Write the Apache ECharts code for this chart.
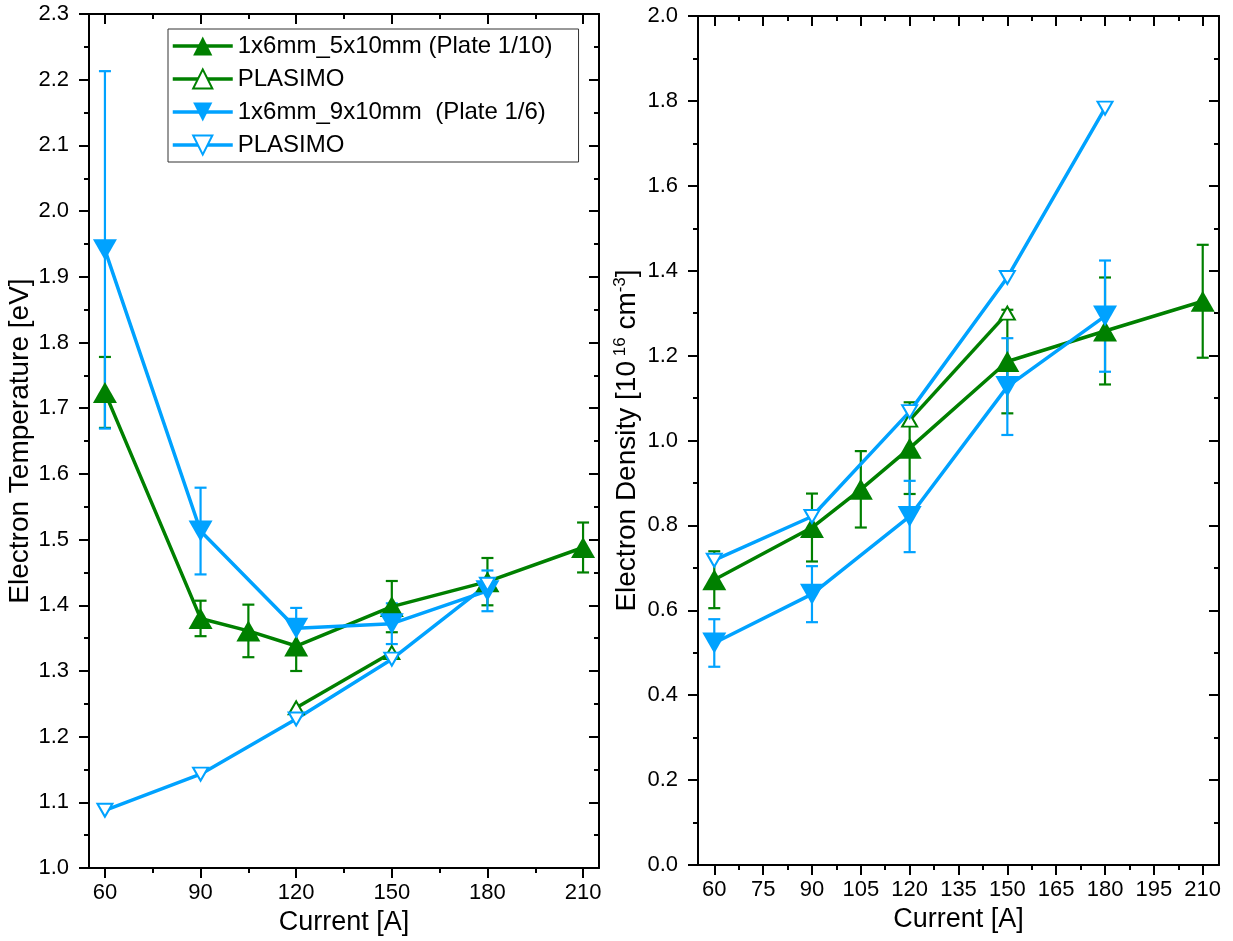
<!DOCTYPE html>
<html>
<head>
<meta charset="utf-8">
<script src="https://cdn.jsdelivr.net/npm/echarts@6/dist/echarts.min.js"></script>
<style>
  html, body { margin: 0; padding: 0; background: #fff; }
  #chart { width: 1233px; height: 941px; }
</style>
</head>
<body>
<div id="chart"></div>
<script>
// ---------- data ----------
const legendNames = ['1x6mm_5x10mm (Plate 1/10)', 'PLASIMO', '1x6mm_9x10mm  (Plate 1/6)', 'PLASIMO '];

// Left panel: Electron Temperature [eV]
const currentPlate10 = [60, 90, 105, 120, 150, 180, 210];
const tempPlate10 = [1.724, 1.380, 1.361, 1.338, 1.398, 1.436, 1.488];
const tempPlate10Err = [0.054, 0.027, 0.040, 0.038, 0.039, 0.036, 0.038];
const currentPlate10Sim = [120, 150];
const tempPlate10Sim = [1.244, 1.328];
const currentPlate6 = [60, 90, 120, 150, 180];
const tempPlate6 = [1.941, 1.513, 1.365, 1.372, 1.422];
const tempPlate6Err = [0.272, 0.066, 0.031, 0.031, 0.031];
const currentPlate6Sim = [60, 90, 120, 150, 180];
const tempPlate6Sim = [1.088, 1.143, 1.227, 1.318, 1.432];

// Right panel: Electron Density [10^16 cm^-3]
const densPlate10 = [0.672, 0.795, 0.885, 0.982, 1.186, 1.258, 1.328];
const densPlate10Err = [0.067, 0.080, 0.090, 0.108, 0.122, 0.126, 0.133];
const densPlate10Sim = [1.048, 1.300];
const densPlate6 = [0.523, 0.638, 0.821, 1.127, 1.293];
const densPlate6Err = [0.056, 0.066, 0.084, 0.114, 0.131];
const densPlate6Sim = [0.718, 0.821, 1.068, 1.384, 1.783];

// ticks
const leftXLabels = [60, 90, 120, 150, 180, 210];
const leftXMinor = [75, 105, 135, 165, 195];
const rightXLabels = [60, 75, 90, 105, 120, 135, 150, 165, 180, 195, 210];
const rightXMinor = [67.5, 82.5, 97.5, 112.5, 127.5, 142.5, 157.5, 172.5, 187.5, 202.5];

// ---------- styling ----------
const GREEN = '#008000';
const BLUE = '#00a2ff';
const FONT = 'Liberation Sans, Arial, sans-serif';
const AX = { color: '#000', width: 2 };

function pairs(xs, ys) { return xs.map((x, i) => [x, ys[i]]); }

function xAxesFor(gridIndex, majors, minors, withName) {
  const base = { type: 'value', gridIndex, min: 55, max: 215, splitLine: { show: false } };
  return [
    Object.assign({}, base, {
      position: 'bottom',
      axisLine: { show: true, onZero: false, lineStyle: AX },
      axisTick: { show: true, customValues: majors, length: 10, lineStyle: AX },
      axisLabel: { show: true, customValues: majors, fontSize: 22, fontFamily: FONT, color: '#000', margin: 14 },
      name: withName ? 'Current [A]' : '',
      nameLocation: 'middle', nameGap: 33,
      nameTextStyle: { fontSize: 27, fontFamily: FONT, color: '#000' }
    }),
    Object.assign({}, base, {
      position: 'bottom',
      axisLine: { show: false, onZero: false },
      axisTick: { show: true, customValues: minors, length: 5, lineStyle: AX },
      axisLabel: { show: false }
    }),
    Object.assign({}, base, {
      position: 'top',
      axisLine: { show: true, onZero: false, lineStyle: AX },
      axisTick: { show: true, inside: true, customValues: majors, length: 10, lineStyle: AX },
      axisLabel: { show: false }
    }),
    Object.assign({}, base, {
      position: 'top',
      axisLine: { show: false, onZero: false },
      axisTick: { show: true, inside: true, customValues: minors, length: 5, lineStyle: AX },
      axisLabel: { show: false }
    })
  ];
}

function yAxesFor(gridIndex, min, max, interval, name, nameStyle) {
  const base = { type: 'value', gridIndex, min, max, interval, splitLine: { show: false } };
  return [
    Object.assign({}, base, {
      position: 'left',
      axisLine: { show: true, onZero: false, lineStyle: AX },
      axisTick: { show: true, length: 10, lineStyle: AX },
      minorTick: { show: true, splitNumber: 2, length: 5, lineStyle: AX },
      axisLabel: { fontSize: 22, fontFamily: FONT, color: '#000', margin: 20,
                   formatter: v => v.toFixed(1) },
      name, nameLocation: 'middle', nameGap: 51,
      nameTextStyle: nameStyle
    }),
    Object.assign({}, base, {
      position: 'right',
      axisLine: { show: true, onZero: false, lineStyle: AX },
      axisTick: { show: true, inside: true, length: 10, lineStyle: AX },
      minorTick: { show: true, splitNumber: 2, length: 5, lineStyle: AX },
      axisLabel: { show: false }
    })
  ];
}

function lineSeries(name, data, color, filled, down, xi, yi) {
  return {
    type: 'line', name, xAxisIndex: xi, yAxisIndex: yi, data,
    symbol: 'triangle', symbolRotate: down ? 180 : 0,
    symbolSize: filled ? [24, 21] : [15, 13],
    lineStyle: { color, width: 3.5 },
    itemStyle: filled ? { color, borderWidth: 0 } : { color: '#fff', borderColor: color, borderWidth: 2 },
    emphasis: { disabled: true },
    animation: false
  };
}

function errSeries(xs, ys, es, color, xi, yi) {
  return {
    type: 'custom', name: 'err', coordinateSystem: 'cartesian2d',
    xAxisIndex: xi, yAxisIndex: yi,
    data: xs.map((x, i) => [x, ys[i] - es[i], ys[i] + es[i]]),
    encode: { x: 0, y: [1, 2] },
    renderItem: function (params, api) {
      const x = api.value(0);
      const lo = api.coord([x, api.value(1)]);
      const hi = api.coord([x, api.value(2)]);
      const w = 6;
      const style = { stroke: color, lineWidth: 2.2, fill: null };
      return {
        type: 'group',
        children: [
          { type: 'line', shape: { x1: lo[0], y1: lo[1], x2: hi[0], y2: hi[1] }, style },
          { type: 'line', shape: { x1: lo[0] - w, y1: lo[1], x2: lo[0] + w, y2: lo[1] }, style },
          { type: 'line', shape: { x1: hi[0] - w, y1: hi[1], x2: hi[0] + w, y2: hi[1] }, style }
        ]
      };
    },
    silent: true,
    animation: false
  };
}

const option = {
  animation: false,
  backgroundColor: '#fff',
  textStyle: { fontFamily: FONT },
  grid: [
    { left: 89, top: 14, right: 634, bottom: 71 },
    { left: 698, top: 16, right: 14, bottom: 76 }
  ],
  legend: {
    data: legendNames,
    orient: 'vertical',
    left: 168, top: 29,
    padding: [5, 26, 5, 3],
    itemGap: 9,
    itemWidth: 60, itemHeight: 24,
    backgroundColor: '#fff',
    borderColor: '#333', borderWidth: 1,
    lineStyle: { width: 3.5 },
    textStyle: { fontSize: 24, fontFamily: FONT, color: '#000', lineHeight: 24 },
    selectedMode: false,
    z: 20
  },
  xAxis: [].concat(
    xAxesFor(0, leftXLabels, leftXMinor, true),
    xAxesFor(1, rightXLabels, rightXMinor, true)
  ),
  yAxis: [].concat(
    yAxesFor(0, 1.0, 2.3, 0.1, 'Electron Temperature [eV]',
      { fontSize: 28, fontFamily: FONT, color: '#000' }),
    yAxesFor(1, 0, 2.0, 0.2, 'Electron Density [10{sup| 16} cm{sup|-3}]',
      { fontSize: 28, fontFamily: FONT, color: '#000', lineHeight: 32,
        rich: { sup: { fontSize: 17, fontFamily: FONT, color: '#000', verticalAlign: 'top', lineHeight: 17 } } })
  ),
  series: [
    // left panel
    lineSeries(legendNames[0], pairs(currentPlate10, tempPlate10), GREEN, true, false, 0, 0),
    errSeries(currentPlate10, tempPlate10, tempPlate10Err, GREEN, 0, 0),
    lineSeries(legendNames[1], pairs(currentPlate10Sim, tempPlate10Sim), GREEN, false, false, 0, 0),
    lineSeries(legendNames[2], pairs(currentPlate6, tempPlate6), BLUE, true, true, 0, 0),
    errSeries(currentPlate6, tempPlate6, tempPlate6Err, BLUE, 0, 0),
    lineSeries(legendNames[3], pairs(currentPlate6Sim, tempPlate6Sim), BLUE, false, true, 0, 0),
    // right panel
    lineSeries(legendNames[0], pairs(currentPlate10, densPlate10), GREEN, true, false, 4, 2),
    errSeries(currentPlate10, densPlate10, densPlate10Err, GREEN, 4, 2),
    lineSeries(legendNames[1], pairs(currentPlate10Sim, densPlate10Sim), GREEN, false, false, 4, 2),
    lineSeries(legendNames[2], pairs(currentPlate6, densPlate6), BLUE, true, true, 4, 2),
    errSeries(currentPlate6, densPlate6, densPlate6Err, BLUE, 4, 2),
    lineSeries(legendNames[3], pairs(currentPlate6Sim, densPlate6Sim), BLUE, false, true, 4, 2)
  ]
};

const chart = echarts.init(document.getElementById('chart'), null, { renderer: 'canvas' });
chart.setOption(option);
</script>
</body>
</html>
